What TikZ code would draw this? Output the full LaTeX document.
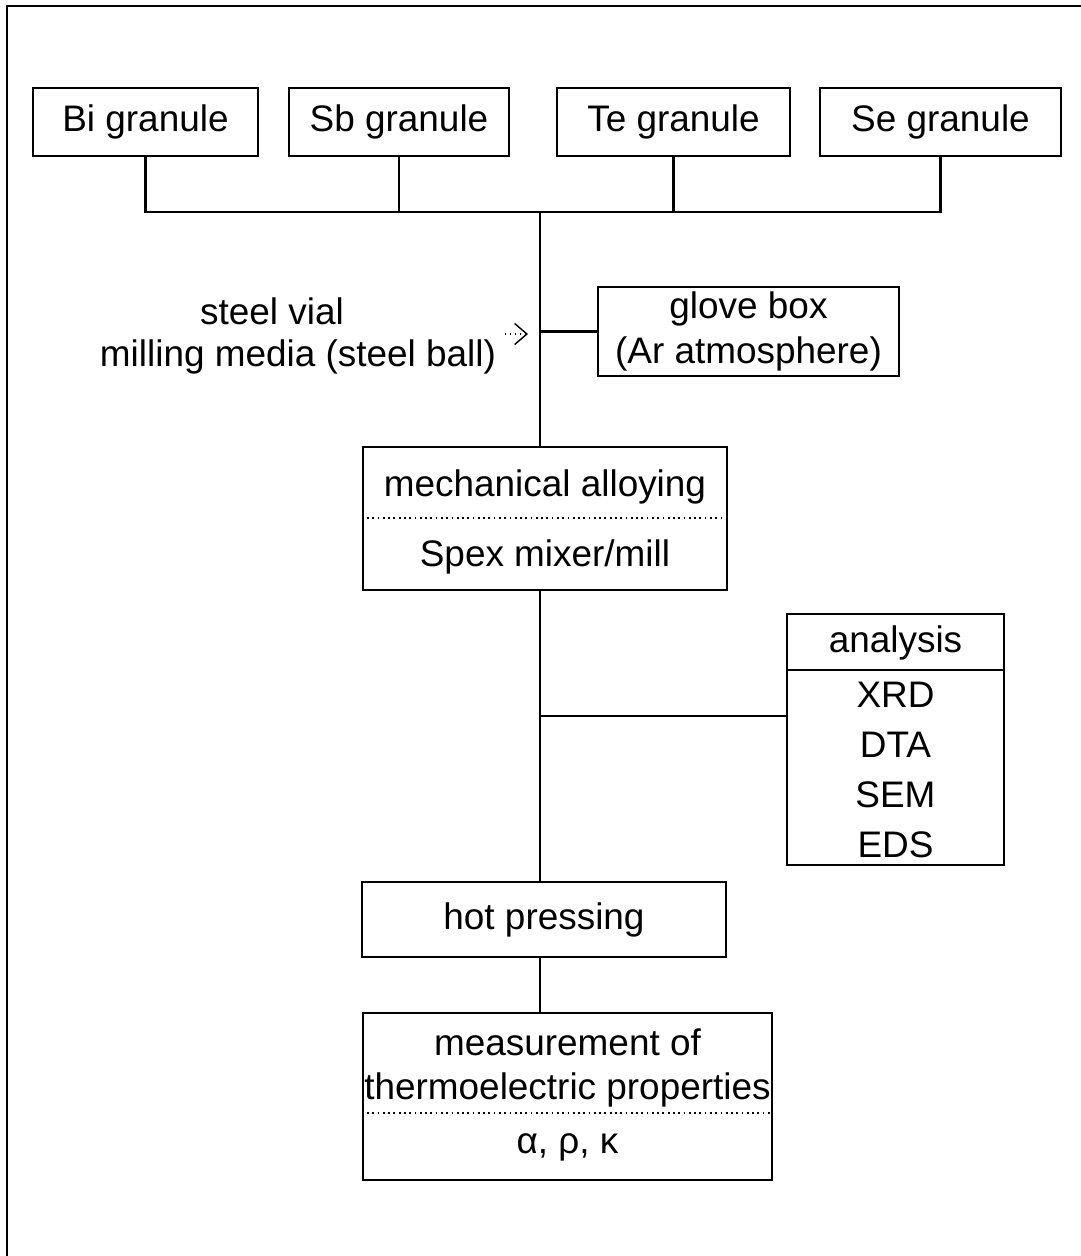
\documentclass[tikz,border=0pt]{standalone}
\usepackage{fontspec}
\setmainfont{Liberation Sans}
\usetikzlibrary{arrows.meta}
\tikzset{
  box/.style={draw, line width=0.6pt, inner sep=0pt, align=center},
  txt/.style={inner sep=0pt, align=center},
  divline/.style={line width=0.5pt, densely dotted},
}
\begin{document}
\begin{tikzpicture}[x=0.01cm, y=-0.01cm, line width=0.6pt, font=\fontsize{10.5}{12.6}\selectfont]
\useasboundingbox (0,0) rectangle (1081,1256);
\draw (7,1256) -- (7,6) -- (1081,6);
% granules
\node[box, minimum width=2.25cm, minimum height=0.68cm] (bi) at (145.5,122) {Bi granule};
\node[box, minimum width=2.20cm, minimum height=0.68cm] (sb) at (399,122) {Sb granule};
\node[box, minimum width=2.33cm, minimum height=0.68cm] (te) at (673.5,122) {Te granule};
\node[box, minimum width=2.41cm, minimum height=0.68cm] (se) at (940.5,122) {Se granule};
\coordinate (top) at (540,212);
\draw (bi.south) -- (bi.south |- top) -- (se.south |- top) -- (se.south);
\draw (sb.south) -- (sb.south |- top);
\draw (te.south) -- (te.south |- top);
% glove box
\node[box, minimum width=3.01cm, minimum height=0.89cm] (glove) at (748.5,331.5) {glove box\\(Ar atmosphere)};
\node[txt] (vial) at (272,311) {steel vial};
\node[txt] (media) at (298,357) {milling media (steel ball)};
\coordinate (arrs) at (505,334);
\coordinate (arre) at (528,334);
\draw[densely dotted, line width=0.4pt, -{Straight Barb[length=3.5pt, width=6pt]}] (arrs) -- (arre);
% mechanical alloying
\node[box, minimum width=3.64cm, minimum height=1.43cm] (mech) at (545,518.5) {};
\node[txt] (mecha) at (545,487) {mechanical alloying};
\node[txt] (mechb) at (545,557) {Spex mixer/mill};
\draw[divline] (mech.west |- 0,518) -- (mech.east |- 0,518);
\draw (top) -- (top |- mech.north);
\draw (top |- glove.west) -- (glove.west);
% analysis
\node[box, minimum width=2.17cm, minimum height=2.51cm] (ana) at (895.5,739.5) {};
\node[txt] (anah) at (895.5,643) {analysis};
\draw (ana.west |- 0,670) -- (ana.east |- 0,670);
\node[txt] (xrd) at (895.5,695) {XRD};
\node[txt] (dta) at (895.5,745) {DTA};
\node[txt] (sem) at (895.5,795) {SEM};
\node[txt] (eds) at (895.5,845) {EDS};
\coordinate (anj) at (540,716);
\draw (anj) -- (anj -| ana.west);
% hot pressing
\node[box, minimum width=3.64cm, minimum height=0.75cm] (hot) at (544,919.5) {hot pressing};
\draw (top |- mech.south) -- (top |- hot.north);
% measurement
\node[box, minimum width=4.09cm, minimum height=1.67cm] (meas) at (567.5,1096.5) {};
\node[txt] (measa) at (567.5,1068) {measurement of\\thermoelectric properties};
\draw[divline] (meas.west |- 0,1113) -- (meas.east |- 0,1113);
\node[txt] (measb) at (567.5,1147) {α, ρ, κ};
\draw (top |- hot.south) -- (top |- meas.north);
\end{tikzpicture}
\end{document}
